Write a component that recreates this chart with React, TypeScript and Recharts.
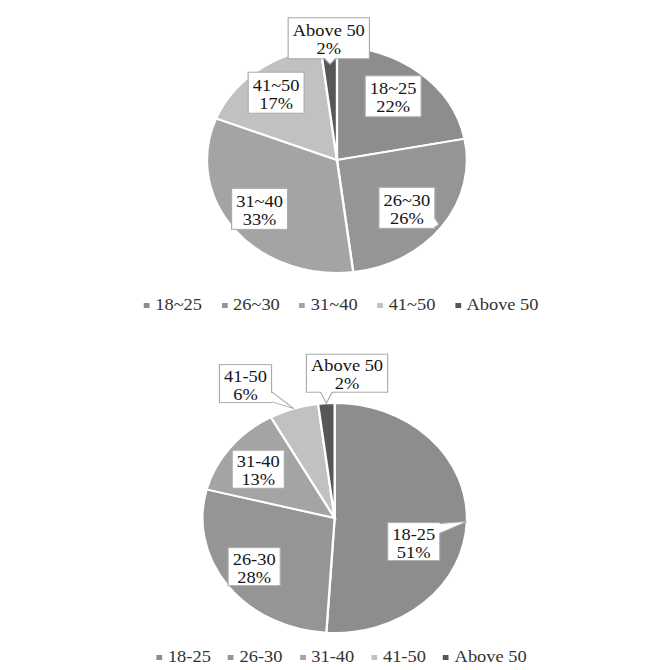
import React from 'react';
import { PieChart, Pie, Cell, Legend } from 'recharts';

const topCategories = ['18~25', '26~30', '31~40', '41~50', 'Above 50'];
const topValues = [22, 26, 33, 17, 2];
const bottomCategories = ['18-25', '26-30', '31-40', '41-50', 'Above 50'];
const bottomValues = [51, 28, 13, 6, 2];
const sliceColors = ['#8d8d8d', '#959595', '#a4a4a4', '#c1c1c1', '#575757'];

const SX = 1.15;
const FONT = '"Liberation Serif", "Times New Roman", serif';
const RAD = Math.PI / 180;
const LABEL_FS = 16;

type LabelCfg = { r: number; dx: number; dy: number; tip?: number };
const topLabelCfg: LabelCfg[] = [
  { r: 0.72, dx: -3, dy: -1 },
  { r: 0.72, dx: -5, dy: 0, tip: 0.97 },
  { r: 0.72, dx: -3, dy: -1, tip: 0.98 },
  { r: 0.72, dx: -3, dy: -3 },
  { r: 1, dx: 0, dy: -9, tip: 0.85 },
];
const bottomLabelCfg: LabelCfg[] = [
  { r: 0.72, dx: -14, dy: 21, tip: 1 },
  { r: 0.72, dx: -3, dy: 0, tip: 0.98 },
  { r: 0.72, dx: -1, dy: 2 },
  { r: 1, dx: -42, dy: -25, tip: 1 },
  { r: 1, dx: 18, dy: -30, tip: 1 },
];

const charW: Record<string, number> = {
  '~': 0.541, '-': 0.333, '%': 0.833, A: 0.722, b: 0.5, o: 0.5, v: 0.5, e: 0.444, ' ': 0.25,
};
const textWidth = (s: string, fs: number) =>
  s.split('').reduce((a, c) => a + (charW[c] ?? 0.5) * fs, 0);

const makeLabel = (names: string[], cfgs: LabelCfg[], h: number) => (props: any) => {
  const { cx, cy, midAngle, outerRadius, value } = props;
  const name = props.name ?? props.payload?.name;
  let idx = names.indexOf(name);
  if (idx < 0) idx = props.index ?? 0;
  const cfg = cfgs[idx];
  const cos = Math.cos(-midAngle * RAD);
  const sin = Math.sin(-midAngle * RAD);
  const bx = cx + outerRadius * cfg.r * cos + cfg.dx;
  const by = cy + outerRadius * cfg.r * sin + cfg.dy;
  const pct = `${value}%`;
  const w = Math.max(textWidth(name, LABEL_FS), textWidth(pct, LABEL_FS)) + 8;
  const x0 = bx - w / 2;
  const x1 = bx + w / 2;
  const y0 = by - h / 2;
  const y1 = by + h / 2;
  let pointer: React.ReactNode = null;
  if (cfg.tip) {
    const tx = cx + outerRadius * cfg.tip * cos;
    const ty = cy + outerRadius * cfg.tip * sin;
    const clamp = (v: number, a: number, b: number) => Math.max(a, Math.min(b, v));
    let b1: number[] | null = null;
    let b2: number[] | null = null;
    let i1: number[] = [];
    let i2: number[] = [];
    if (tx > x1) {
      const c = clamp(ty, y0 + 6, y1 - 6);
      b1 = [x1, c - 5]; b2 = [x1, c + 5]; i1 = [x1 - 1.5, c - 5]; i2 = [x1 - 1.5, c + 5];
    } else if (tx < x0) {
      const c = clamp(ty, y0 + 6, y1 - 6);
      b1 = [x0, c - 5]; b2 = [x0, c + 5]; i1 = [x0 + 1.5, c - 5]; i2 = [x0 + 1.5, c + 5];
    } else if (ty > y1) {
      const c = clamp(tx, x0 + 6, x1 - 6);
      b1 = [c - 5, y1]; b2 = [c + 5, y1]; i1 = [c - 5, y1 - 1.5]; i2 = [c + 5, y1 - 1.5];
    } else if (ty < y0) {
      const c = clamp(tx, x0 + 6, x1 - 6);
      b1 = [c - 5, y0]; b2 = [c + 5, y0]; i1 = [c - 5, y0 + 1.5]; i2 = [c + 5, y0 + 1.5];
    }
    if (b1 && b2) {
      pointer = (
        <g>
          <polygon points={`${i1[0]},${i1[1]} ${tx},${ty} ${i2[0]},${i2[1]}`} fill="#fff" stroke="none" />
          <polyline points={`${b1[0]},${b1[1]} ${tx},${ty} ${b2[0]},${b2[1]}`} fill="none" stroke="#ababab" strokeWidth={1} />
        </g>
      );
    }
  }
  const textProps = {
    textAnchor: 'middle' as const,
    fontFamily: FONT,
    fontSize: LABEL_FS,
    fill: '#141414',
  };
  return (
    <g>
      <rect x={x0} y={y0} width={w} height={h} fill="#fff" stroke="#ababab" strokeWidth={1} />
      {pointer}
      <text x={bx} y={by - 2} {...textProps}>{name}</text>
      <text x={bx} y={by + 16} {...textProps}>{pct}</text>
    </g>
  );
};

const makeLegend = (names: string[], gap: number) => (props: any) => {
  const payload: any[] = props?.payload ?? [];
  const labels = payload.length === names.length ? payload.map((p) => p.value) : names;
  return (
    <div style={{ display: 'flex', alignItems: 'center', fontFamily: FONT, fontSize: 16, color: '#333', whiteSpace: 'nowrap', lineHeight: '18px' }}>
      {labels.map((n: string, i: number) => (
        <span key={n} style={{ display: 'inline-flex', alignItems: 'center', marginRight: gap }}>
          <span style={{ width: 5, height: 5, background: sliceColors[i], marginRight: 5, display: 'inline-block' }} />
          {n}
        </span>
      ))}
    </div>
  );
};

const topData = topCategories.map((name, i) => ({ name, value: topValues[i] }));
const bottomData = bottomCategories.map((name, i) => ({ name, value: bottomValues[i] }));

const W = 570;

export default function App() {
  return (
    <div style={{ position: 'absolute', left: 0, top: 0, width: 655, height: 670, background: '#fff', overflow: 'hidden' }}>
      <div style={{ position: 'absolute', left: 0, top: 0, width: W, height: 670, transform: `scaleX(${SX})`, transformOrigin: '0 0' }}>
        <PieChart width={W} height={335} margin={{ top: 0, right: 0, bottom: 0, left: 0 }}>
          <Pie
            data={topData}
            dataKey="value"
            nameKey="name"
            cx={293}
            cy={160}
            outerRadius={113}
            startAngle={90}
            endAngle={-270}
            stroke="#fff"
            strokeWidth={2}
            isAnimationActive={false}
            labelLine={false}
            label={makeLabel(topCategories, topLabelCfg, 41)}
          >
            {topData.map((d, i) => (
              <Cell key={d.name} fill={sliceColors[i]} />
            ))}
          </Pie>
          <Legend
            content={makeLegend(topCategories, 17)}
            wrapperStyle={{ left: 125, top: 296, width: 'auto', height: 18 }}
          />
        </PieChart>
        <PieChart width={W} height={335} margin={{ top: 0, right: 0, bottom: 0, left: 0 }}>
          <Pie
            data={bottomData}
            dataKey="value"
            nameKey="name"
            cx={291}
            cy={183}
            outerRadius={115}
            startAngle={90}
            endAngle={-270}
            stroke="#fff"
            strokeWidth={2}
            isAnimationActive={false}
            labelLine={false}
            label={makeLabel(bottomCategories, bottomLabelCfg, 38)}
          >
            {bottomData.map((d, i) => (
              <Cell key={d.name} fill={sliceColors[i]} />
            ))}
          </Pie>
          <Legend
            content={makeLegend(bottomCategories, 15)}
            wrapperStyle={{ left: 136, top: 313, width: 'auto', height: 18 }}
          />
        </PieChart>
      </div>
    </div>
  );
}
